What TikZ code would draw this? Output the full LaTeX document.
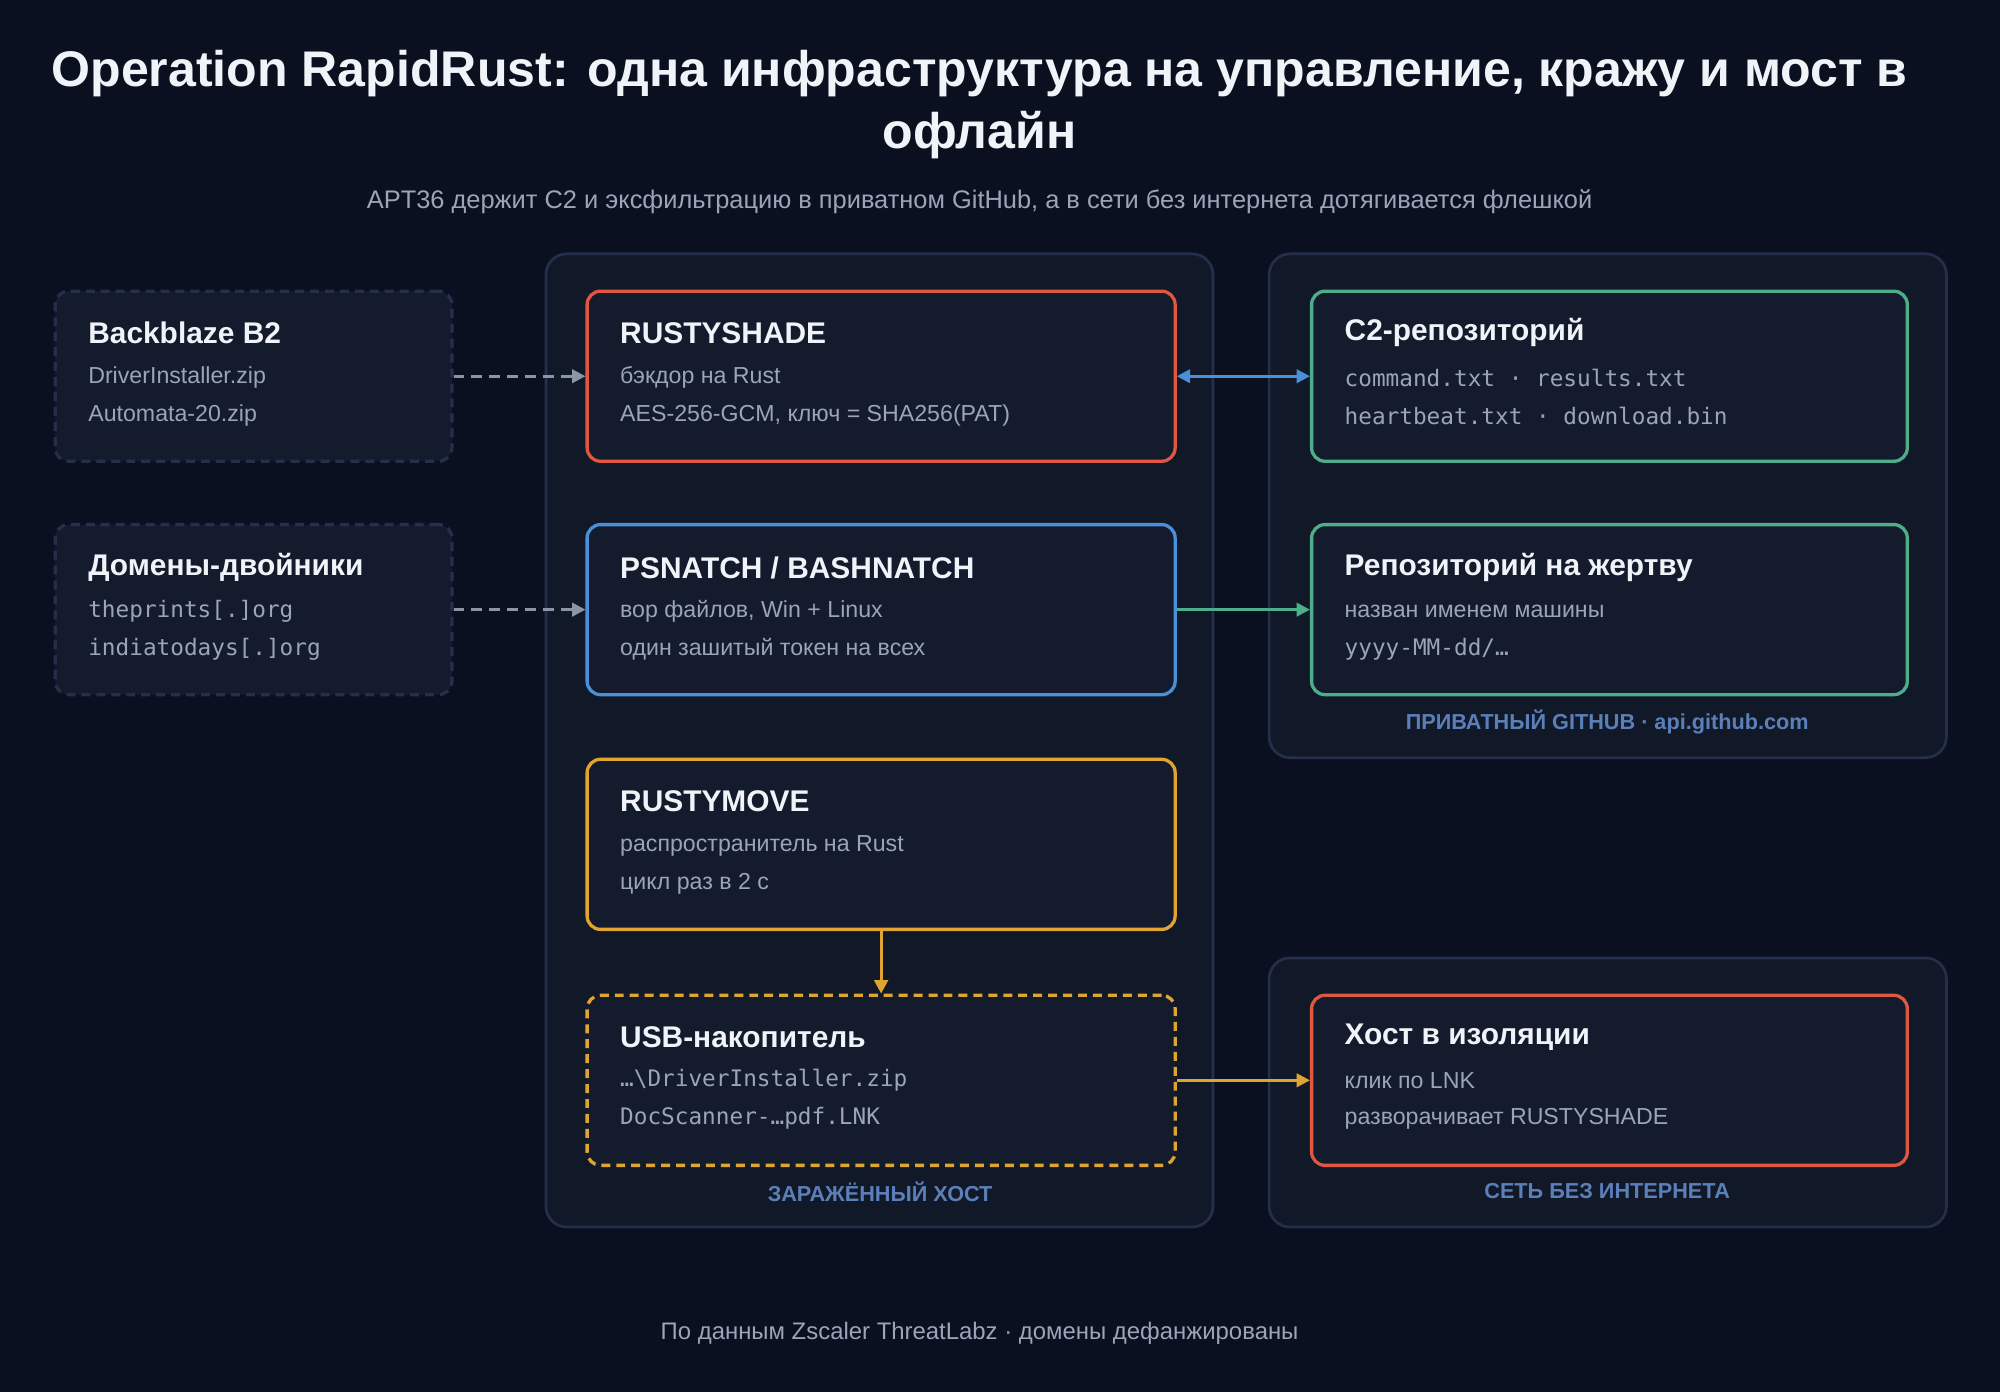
\documentclass[tikz,border=0pt]{standalone}
\usepackage{fontspec}
\setmainfont{Liberation Sans}
\setmonofont{DejaVu Sans Mono}
\usetikzlibrary{arrows.meta}
\definecolor{bgc}{HTML}{0B1020}
\definecolor{panelc}{HTML}{111929}
\definecolor{panelb}{HTML}{243049}
\definecolor{boxc}{HTML}{131B2C}
\definecolor{redc}{HTML}{E0563F}
\definecolor{bluec}{HTML}{4A90D9}
\definecolor{yelc}{HTML}{E0A530}
\definecolor{grnc}{HTML}{4FAE8A}
\definecolor{txtc}{HTML}{F0F3F8}
\definecolor{grayc}{HTML}{9AA5B8}
\definecolor{lblc}{HTML}{5B7FB8}
\definecolor{dashc}{HTML}{8C95A6}
\begin{document}
\begin{tikzpicture}[x=0.03cm,y=-0.03cm]
	\tikzstyle{panel}=[draw=panelb,fill=panelc,line width=1.8pt,rounded corners=14pt]
	\tikzstyle{box}=[draw,fill=boxc,line width=2.2pt,rounded corners=9pt,anchor=north west,minimum width=13.83cm,minimum height=4cm,inner sep=0pt]
	\tikzstyle{side}=[box,draw=panelb,dashed,dash pattern=on 6pt off 4pt,minimum width=9.33cm]
	\tikzstyle{rbox}=[box,minimum width=14.01cm]
	\tikzstyle{ttl}=[anchor=west,inner xsep=0pt,text=txtc,font=\bfseries\fontsize{20}{22}\selectfont]
	\tikzstyle{sub}=[anchor=west,inner xsep=0pt,text=grayc,font=\fontsize{15.5}{18}\selectfont]
	\tikzstyle{mono}=[anchor=west,inner xsep=0pt,text=grayc,font=\ttfamily\fontsize{15.2}{18}\selectfont]
	\tikzstyle{plbl}=[text=lblc,font=\bfseries\fontsize{14.5}{16}\selectfont]
	\tikzstyle{link}=[line width=2pt,-{Triangle[length=9pt,width=9pt]}]

	\fill[bgc] (0,0) rectangle (1568,1091);

	% titles
	\node[text=txtc,font=\bfseries\fontsize{33.5}{38}\selectfont] (title1) at (768,58) {Operation RapidRust: одна инфраструктура на управление, кражу и мост в};
	\node[text=txtc,font=\bfseries\fontsize{33.5}{38}\selectfont] (title2) at (768,106) {офлайн};
	\node[text=grayc,font=\fontsize{17}{20}\selectfont] (subtitle) at (768,158) {APT36 держит C2 и эксфильтрацию в приватном GitHub, а в сети без интернета дотягивается флешкой};

	% panels
	\draw[panel] (428,199) rectangle (951,962);
	\draw[panel] (995,199) rectangle (1526,594);
	\draw[panel] (995,751) rectangle (1526,962);
	\node[plbl] (hostlbl) at (690,934) {ЗАРАЖЁННЫЙ ХОСТ};
	\node[plbl] (ghlbl) at (1260,566) {ПРИВАТНЫЙ GITHUB · api.github.com};
	\node[plbl] (netlbl) at (1260,934) {СЕТЬ БЕЗ ИНТЕРНЕТА};

	% boxes
	\node[side] (b2) at (42,227) {};
	\node[side] (dom) at (42,410) {};
	\node[box,draw=redc] (shade) at (459,227) {};
	\node[box,draw=bluec] (snatch) at (459,410) {};
	\node[box,draw=yelc] (move) at (459,594) {};
	\node[box,draw=yelc,dashed,dash pattern=on 6pt off 4pt] (usb) at (459,779) {};
	\node[rbox,draw=grnc] (c2) at (1027,227) {};
	\node[rbox,draw=grnc] (vrepo) at (1027,410) {};
	\node[rbox,draw=redc] (iso) at (1027,779) {};

	% texts
	\node[ttl] at (69,261) {Backblaze B2};
	\node[sub] at (69,296) {DriverInstaller.zip};
	\node[sub] at (69,326) {Automata-20.zip};
	\node[ttl] at (69,445) {Домены-двойники};
	\node[mono] at (69,479) {theprints[.]org};
	\node[mono] at (69,509) {indiatodays[.]org};

	\node[ttl] at (486,261) {RUSTYSHADE};
	\node[sub] at (486,296) {бэкдор на Rust};
	\node[sub] at (486,326) {AES-256-GCM, ключ = SHA256(PAT)};
	\node[ttl] at (486,445) {PSNATCH / BASHNATCH};
	\node[sub] at (486,479) {вор файлов, Win + Linux};
	\node[sub] at (486,509) {один зашитый токен на всех};
	\node[ttl] at (486,628) {RUSTYMOVE};
	\node[sub] at (486,663) {распространитель на Rust};
	\node[sub] at (486,693) {цикл раз в 2 с};
	\node[ttl] at (486,813) {USB-накопитель};
	\node[mono] at (486,847) {…\textbackslash DriverInstaller.zip};
	\node[mono] at (486,877) {DocScanner-…pdf.LNK};

	\node[ttl] at (1054,261) {C2-репозиторий};
	\node[mono] at (1054,296) {command.txt · results.txt};
	\node[mono] at (1054,326) {heartbeat.txt · download.bin};
	\node[ttl] at (1054,445) {Репозиторий на жертву};
	\node[sub] at (1054,479) {назван именем машины};
	\node[mono] at (1054,509) {yyyy-MM-dd/…};
	\node[ttl] at (1054,813) {Хост в изоляции};
	\node[sub] at (1054,847) {клик по LNK};
	\node[sub] at (1054,877) {разворачивает RUSTYSHADE};

	% connectors
	\draw[link,dashc,dashed,dash pattern=on 7pt off 5pt] (b2.east) -- (shade.west);
	\draw[link,dashc,dashed,dash pattern=on 7pt off 5pt] (dom.east) -- (snatch.west);
	\draw[link,bluec,{Triangle[length=9pt,width=9pt]}-{Triangle[length=9pt,width=9pt]}] (shade.east) -- (c2.west);
	\draw[link,grnc] (snatch.east) -- (vrepo.west);
	\draw[link,yelc] (move.south) -- (usb.north);
	\draw[link,yelc] (usb.east) -- (iso.west);

	\node[text=grayc,font=\fontsize{16}{18}\selectfont] (footer) at (768,1045) {По данным Zscaler ThreatLabz · домены дефанжированы};
\end{tikzpicture}
\end{document}
